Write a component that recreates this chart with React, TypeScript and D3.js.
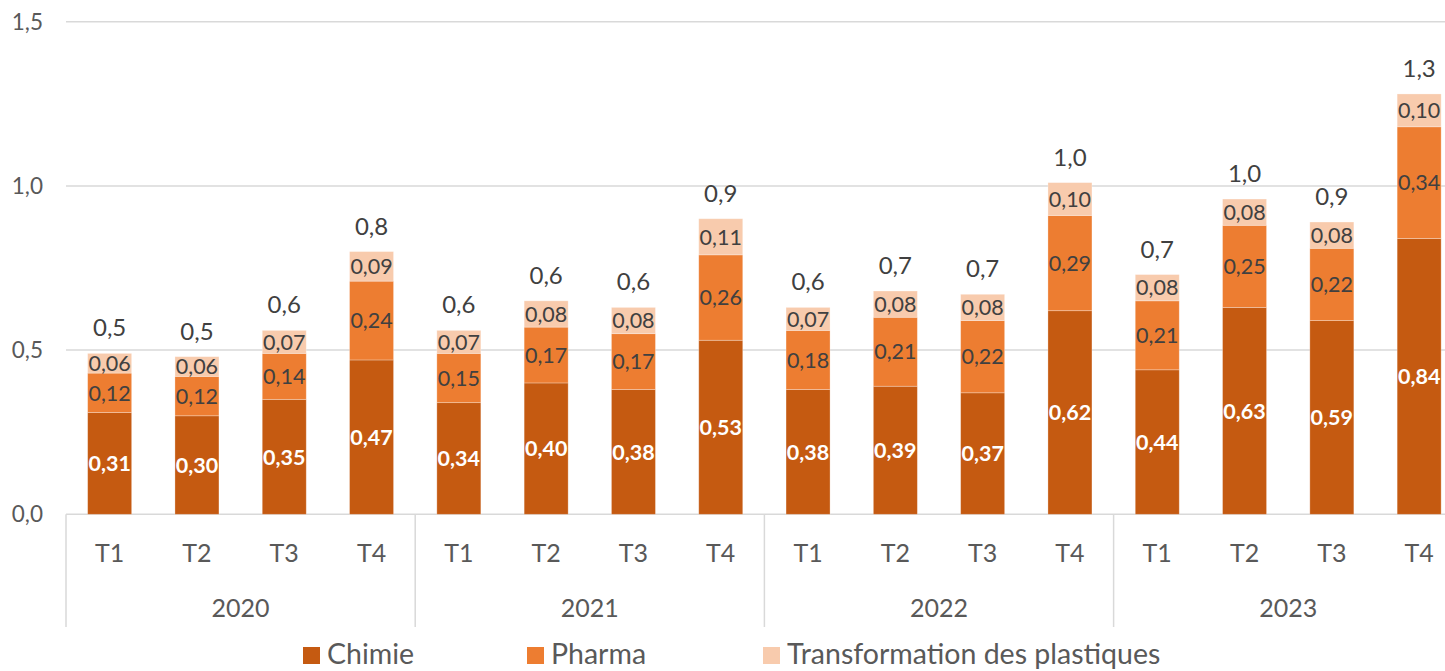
import React from "react";
import * as d3 from "d3";

const years = ["2020", "2021", "2022", "2023"];
const quarters = ["T1", "T2", "T3", "T4"];
const chimie = [0.31, 0.30, 0.35, 0.47, 0.34, 0.40, 0.38, 0.53, 0.38, 0.39, 0.37, 0.62, 0.44, 0.63, 0.59, 0.84];
const pharma = [0.12, 0.12, 0.14, 0.24, 0.15, 0.17, 0.17, 0.26, 0.18, 0.21, 0.22, 0.29, 0.21, 0.25, 0.22, 0.34];
const plastiques = [0.06, 0.06, 0.07, 0.09, 0.07, 0.08, 0.08, 0.11, 0.07, 0.08, 0.08, 0.10, 0.08, 0.08, 0.08, 0.10];
const totalLabels = ["0,5", "0,5", "0,6", "0,8", "0,6", "0,6", "0,6", "0,9", "0,6", "0,7", "0,7", "1,0", "0,7", "1,0", "0,9", "1,3"];
const yTicks = [0, 0.5, 1.0, 1.5];
const seriesNames = ["Chimie", "Pharma", "Transformation des plastiques"];
const colors = ["#C55A11", "#ED7D31", "#F8CBAD"];

const W = 1445;
const H = 671;
const FONT = "Lato, 'Open Sans', sans-serif";

export default function App() {
  const step = 87.3;
  const left = 66;
  const n = chimie.length;
  const idx = d3.range(n).map(String);
  const x = d3
    .scaleBand<string>()
    .domain(idx)
    .range([left, left + n * step])
    .paddingInner(0.496)
    .paddingOuter(0.248);
  const y = d3.scaleLinear().domain([0, 1.5]).range([514.3, 21.7]);
  const fmt = (v: number) => v.toFixed(2).replace(".", ",");

  const series = [chimie, pharma, plastiques];
  const stackData = idx.map((_, i) => ({ i, a: chimie[i], b: pharma[i], c: plastiques[i] }));
  const stacked = d3.stack<any>().keys(["a", "b", "c"])(stackData);

  const gridColor = "#D9D9D9";
  const axisText = "#595959";
  const labelText = "#404040";

  return (
    <div style={{ position: "fixed", left: 0, top: 0, width: W, height: H, overflow: "hidden", background: "#fff" }}>
      <svg width={W} height={H} style={{ display: "block", fontFamily: FONT }}>
        {/* gridlines */}
        {yTicks.map((t) => (
          <g key={t}>
            <line x1={left} x2={left + n * step} y1={y(t)} y2={y(t)} stroke={gridColor} strokeWidth={1.5} />
            <text x={43} y={y(t)} dy="0.35em" textAnchor="end" fontSize={22.5} fill={axisText}>
              {t.toFixed(1).replace(".", ",")}
            </text>
          </g>
        ))}
        {/* group separators */}
        {d3.range(years.length + 1).map((g) => (
          <line
            key={g}
            x1={left + g * 4 * step}
            x2={left + g * 4 * step}
            y1={y(0)}
            y2={627}
            stroke={gridColor}
            strokeWidth={1.5}
          />
        ))}
        {/* bars */}
        {stacked.map((s, si) => (
          <g key={si}>
            {s.map((d, i) => {
              const x0 = x(String(i)) as number;
              const y0 = y(d[1]);
              const h = y(d[0]) - y(d[1]);
              return (
                <g key={i}>
                  <rect x={x0} y={y0} width={x.bandwidth()} height={h} fill={colors[si]} stroke="#fff" strokeOpacity={0.35} strokeWidth={0.8} />
                  <text
                    x={x0 + x.bandwidth() / 2}
                    y={y0 + h / 2}
                    dy="0.36em"
                    textAnchor="middle"
                    fontSize={21.5}
                    fontWeight={si === 0 ? 700 : 400}
                    fill={si === 0 ? "#fff" : labelText}
                  >
                    {fmt(series[si][i])}
                  </text>
                </g>
              );
            })}
          </g>
        ))}
        {/* totals */}
        {idx.map((k, i) => {
          const top = y(chimie[i] + pharma[i] + plastiques[i]);
          return (
            <text key={k} x={(x(k) as number) + x.bandwidth() / 2} y={top - 17} textAnchor="middle" fontSize={24} fill={labelText}>
              {totalLabels[i]}
            </text>
          );
        })}
        {/* quarter labels */}
        {idx.map((k, i) => (
          <text key={k} x={(x(k) as number) + x.bandwidth() / 2} y={553} dy="0.35em" textAnchor="middle" fontSize={25} fill={axisText}>
            {quarters[i % 4]}
          </text>
        ))}
        {/* year labels */}
        {years.map((yr, g) => (
          <text key={yr} x={left + (g * 4 + 2) * step} y={608} dy="0.35em" textAnchor="middle" fontSize={25} fill={axisText}>
            {yr}
          </text>
        ))}
        {/* legend */}
        {seriesNames.map((name, si) => {
          const sx = [303, 527, 763][si];
          return (
            <g key={name}>
              <rect x={sx} y={647} width={17} height={17} fill={colors[si]} />
              <text x={sx + 24} y={664} fontSize={28.5} fill={axisText}>
                {name}
              </text>
            </g>
          );
        })}
      </svg>
    </div>
  );
}
